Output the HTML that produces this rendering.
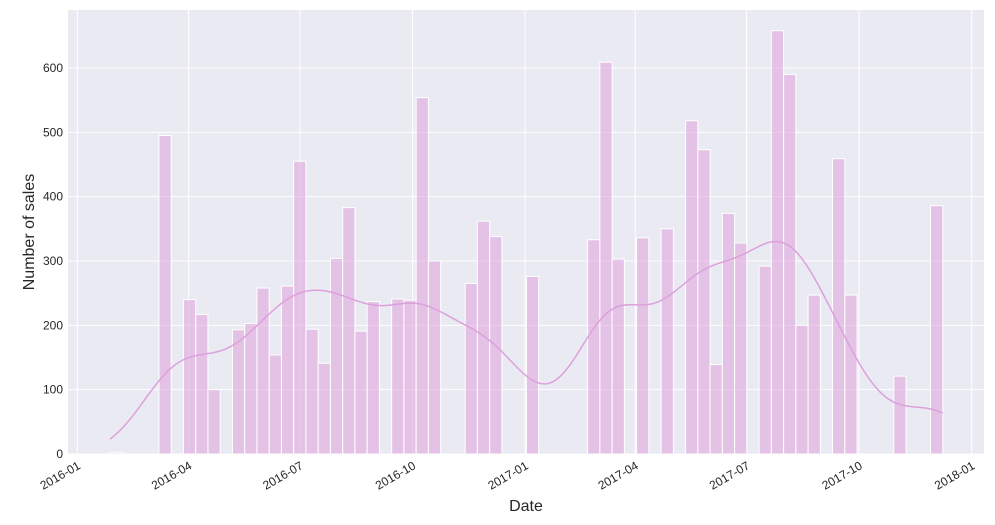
<!DOCTYPE html>
<html><head><meta charset="utf-8"><style>
html,body{margin:0;padding:0;background:#fff;width:995px;height:525px;overflow:hidden}
svg text{font-family:"Liberation Sans",Arial,sans-serif;fill:#262626}
</style></head><body>
<svg id="chart" width="995" height="525" xmlns="http://www.w3.org/2000/svg">
<rect x="68" y="10" width="916" height="444" fill="#EAEAF2"/>
<g id="grid"></g><g id="bars"></g><g id="kde"></g><g id="ticks"></g>
<text x="526" y="511" font-size="16" text-anchor="middle">Date</text>
<text transform="translate(34,232) rotate(-90)" font-size="16" text-anchor="middle">Number of sales</text>
</svg>
<script>
const binCounts = [2,0,0,0,495,0,240,217,100,0,193,203,258,154,261,455,194,141,304,383,191,237,0,241,239,554,300,0,0,265,362,338,0,0,276,0,0,0,0,333,609,303,0,336,0,350,0,518,473,139,374,328,0,292,658,590,200,247,0,459,247,0,0,0,121,0,0,386];
const yTicks = [0,100,200,300,400,500,600];
const xTickLabels = ["2016-01","2016-04","2016-07","2016-10","2017-01","2017-04","2017-07","2017-10","2018-01"];
const xTickDays = [0,91,182,274,366,456,547,639,731];
const firstBinDay = 26.7, binDays = 10.01;

const NS="http://www.w3.org/2000/svg";
const L=68,R=984,T=10,B=454;
const x0=77.3, pxPerDay=(971.7-77.3)/731;
const xd=d=>x0+d*pxPerDay;
const y=v=>B-v*(B-68)/600;
function mk(tag,attrs,parent){const e=document.createElementNS(NS,tag);for(const k in attrs)e.setAttribute(k,attrs[k]);parent.appendChild(e);return e;}
const grid=document.getElementById('grid'),bars=document.getElementById('bars'),ticks=document.getElementById('ticks'),kdeG=document.getElementById('kde');
yTicks.forEach(v=>{
  const g=mk('line',{x1:L,x2:R,y1:y(v),y2:y(v),stroke:'#fff','stroke-width':1},grid);
  
  
  const t=mk('text',{x:63,y:y(v)+4,'font-size':12,'text-anchor':'end'},ticks);
  t.textContent=v;
  
  
});
xTickDays.forEach((d,i)=>{
  const X=xd(d);
  const g=mk('line',{x1:X,x2:X,y1:T,y2:B,stroke:'#fff','stroke-width':1},grid);
  
  
  const t=mk('text',{x:X+4,y:B+14,'font-size':12,'text-anchor':'end',transform:`rotate(-30 ${X+4} ${B+14})`},ticks);
  t.textContent=xTickLabels[i];
  
  
});
binCounts.forEach((c,i)=>{
  if(c<=0)return;
  const xa=xd(firstBinDay+i*binDays), xb=xd(firstBinDay+(i+1)*binDays);
  const r=mk('rect',{x:xa,y:y(c),width:xb-xa,height:y(0)-y(c),fill:'#DDA0DD','fill-opacity':0.55,stroke:'#fff','stroke-width':1},bars);
  
  
});
const bw=2.8;
let pts=[];
const n=binCounts.length;
for(let s=0;s<=200;s++){
  const p=n*s/200;
  let v=0;
  binCounts.forEach((c,i)=>{const d=p-(i+0.5);v+=c*Math.exp(-d*d/(2*bw*bw))/(bw*Math.sqrt(2*Math.PI));});
  const X=xd(firstBinDay+p*binDays);
  pts.push(X.toFixed(1)+','+y(v).toFixed(1));
}
const pl=mk('polyline',{points:pts.join(' '),fill:'none',stroke:'#DDA0DD','stroke-width':1.5},kdeG);


</script>
</body></html>
